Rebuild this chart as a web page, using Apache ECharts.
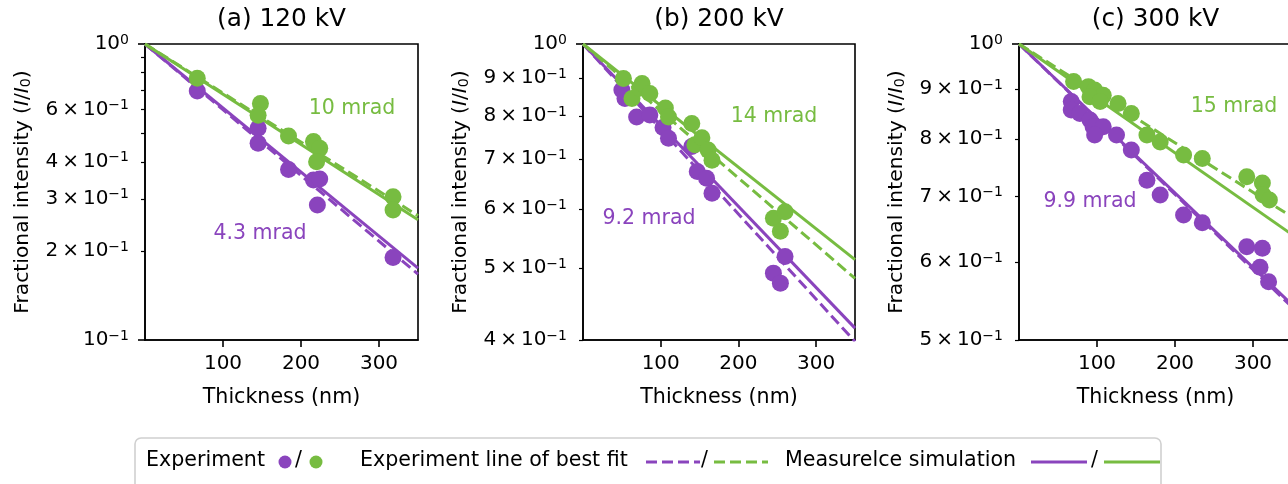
<!DOCTYPE html>
<html>
<head>
<meta charset="utf-8">
<script src="https://cdn.jsdelivr.net/npm/echarts@6/dist/echarts.min.js"></script>
<style>
  html, body { margin: 0; padding: 0; background: #fff; }
  #chart { width: 1288px; height: 484px; }
</style>
</head>
<body>
<div id="chart"></div>
<script>
const chart = echarts.init(document.getElementById('chart'))

const purple = '#8a44bd'
const green = '#77bc41'
const font = 'DejaVu Sans'

// panel titles and angle annotations
const titles = ['(a) 120 kV', '(b) 200 kV', '(c) 300 kV']
const anglePurple = ['4.3 mrad', '9.2 mrad', '9.9 mrad']
const angleGreen = ['10 mrad', '14 mrad', '15 mrad']

// axes
const xTicks = [100, 200, 300]
const yMin = [0.1, 0.4, 0.5]
const yLabels = [
  [0.1, 0.2, 0.3, 0.4, 0.6, 1],
  [0.4, 0.5, 0.6, 0.7, 0.8, 0.9, 1],
  [0.5, 0.6, 0.7, 0.8, 0.9, 1],
]
const yMinorTicks = [
  [0.2, 0.3, 0.4, 0.5, 0.6, 0.7, 0.8, 0.9],
  [0.4, 0.5, 0.6, 0.7, 0.8, 0.9],
  [0.5, 0.6, 0.7, 0.8, 0.9],
]
const yMajorTicks = [[0.1, 1], [1], [1]]

// experiment points: [thickness (nm), I/I0]
const expA_purple = [[67, 0.694], [145, 0.519], [145, 0.462], [184, 0.377], [216, 0.347], [224, 0.35], [221, 0.286], [318, 0.19]]
const expA_green = [[67, 0.766], [148, 0.63], [145, 0.575], [184, 0.489], [216, 0.468], [224, 0.444], [220, 0.4], [318, 0.305], [318, 0.275]]

const expB_purple = [[50, 0.867], [54, 0.845], [69, 0.798], [86, 0.803], [103, 0.772], [110, 0.747], [140, 0.728], [147, 0.674], [159, 0.66], [166, 0.63], [245, 0.492], [254, 0.477], [260, 0.518]]
const expB_green = [[52, 0.899], [63, 0.845], [73, 0.872], [76, 0.885], [86, 0.858], [106, 0.82], [110, 0.798], [140, 0.782], [144, 0.732], [153, 0.748], [161, 0.72], [166, 0.698], [245, 0.583], [254, 0.56], [260, 0.595]]

const expC_purple = [[67, 0.874], [67, 0.857], [78, 0.85], [91, 0.837], [95, 0.824], [108, 0.824], [97, 0.808], [125, 0.808], [144, 0.78], [164, 0.727], [181, 0.702], [211, 0.67], [235, 0.658], [292, 0.622], [312, 0.62], [309, 0.593], [320, 0.573]]
const expC_green = [[70, 0.916], [89, 0.905], [97, 0.898], [108, 0.887], [91, 0.884], [104, 0.874], [127, 0.87], [144, 0.85], [164, 0.808], [181, 0.795], [211, 0.771], [235, 0.765], [292, 0.733], [312, 0.722], [313, 0.702], [321, 0.694]]

// line of best fit (dashed)
const fitA_purple = [[0, 1], [350, 0.167]]
const fitA_green = [[0, 1], [350, 0.263]]
const fitB_purple = [[0, 1], [350, 0.398]]
const fitB_green = [[0, 1], [350, 0.484]]
const fitC_purple = [[0, 1], [350, 0.54]]
const fitC_green = [[0, 1], [350, 0.667]]

// MeasureIce simulation (solid)
const simA_purple = [[0, 1], [350, 0.175]]
const simA_green = [[0, 1], [350, 0.255]]
const simB_purple = [[0, 1], [350, 0.415]]
const simB_green = [[0, 1], [350, 0.513]]
const simC_purple = [[0, 1], [350, 0.543]]
const simC_green = [[0, 1], [350, 0.64]]

const panels = [
  { expP: expA_purple, expG: expA_green, fitP: fitA_purple, fitG: fitA_green, simP: simA_purple, simG: simA_green },
  { expP: expB_purple, expG: expB_green, fitP: fitB_purple, fitG: fitB_green, simP: simB_purple, simG: simB_green },
  { expP: expC_purple, expG: expC_green, fitP: fitC_purple, fitG: fitC_green, simP: simC_purple, simG: simC_green },
]

// layout
const gridLeft = [145, 583, 1019]
const gridWidth = [273, 272, 273]
const gridTop = 44
const gridHeight = 296
const annPurplePos = [[260, 234], [649, 219], [1090, 202]]
const annGreenPos = [[352, 109], [774, 117], [1234, 107]]

function logLabel(v) {
  if (Math.abs(v - 1) < 1e-9) return '{b|10}{s|0}'
  if (Math.abs(v - 0.1) < 1e-9) return '{b|10}{s|\u22121}'
  return '{b|' + Math.round(v * 10) + '\u2009\u00d7\u200910}{s|\u22121}'
}

const grids = []
const xAxes = []
const yAxes = []
const series = []
const graphics = []

panels.forEach((p, i) => {
  grids.push({
    left: gridLeft[i], top: gridTop, width: gridWidth[i], height: gridHeight,
    show: true, borderColor: '#000', borderWidth: 1.6, backgroundColor: 'transparent',
    containLabel: false, outerBoundsMode: 'none',
  })
  xAxes.push({
    type: 'value', gridIndex: i, min: 0, max: 350,
    name: 'Thickness (nm)', nameLocation: 'middle', nameGap: 47, nameMoveOverlap: false,
    nameTextStyle: { fontFamily: font, fontSize: 20.6, color: '#000' },
    axisLine: { show: true, lineStyle: { color: '#000', width: 1.6 } },
    axisTick: { show: true, length: 7, lineStyle: { color: '#000', width: 1.6 }, customValues: xTicks },
    axisLabel: { fontFamily: font, fontSize: 20, color: '#000', margin: 14, customValues: xTicks },
    splitLine: { show: false },
  })
  yAxes.push({
    type: 'log', logBase: 10, gridIndex: i, min: yMin[i], max: 1,
    name: 'Fractional intensity ({i|I}/{i|I}{sub|0})', nameLocation: 'middle', nameGap: 112, nameMoveOverlap: false,
    nameTextStyle: {
      fontFamily: font, fontSize: 20.3, color: '#000',
      rich: {
        i: { fontFamily: font, fontSize: 20.3, fontStyle: 'italic', color: '#000' },
        sub: { fontFamily: font, fontSize: 14.2, verticalAlign: 'bottom', color: '#000' },
      },
    },
    axisLine: { show: true, lineStyle: { color: '#000', width: 1.6 } },
    axisTick: { show: true, length: 4, lineStyle: { color: '#000', width: 1.2 }, customValues: yMinorTicks[i] },
    axisLabel: {
      margin: 16, customValues: yLabels[i], formatter: logLabel,
      rich: {
        b: { fontFamily: font, fontSize: 20, color: '#000', lineHeight: 22 },
        s: { fontFamily: font, fontSize: 14, color: '#000', verticalAlign: 'top', lineHeight: 14 },
      },
    },
    splitLine: { show: false },
    minorTick: { show: false },
  })
  yAxes.push({
    type: 'log', logBase: 10, gridIndex: i, min: yMin[i], max: 1, position: 'left',
    axisLine: { show: false },
    axisTick: { show: true, length: 7, lineStyle: { color: '#000', width: 1.6 }, customValues: yMajorTicks[i] },
    axisLabel: { show: false },
    splitLine: { show: false },
  })

  const lineBase = { type: 'line', xAxisIndex: i, yAxisIndex: 2 * i, showSymbol: false, symbol: 'none', silent: true, z: 2 }
  series.push({ ...lineBase, name: 'sim purple', data: p.simP, lineStyle: { color: purple, width: 3 } })
  series.push({ ...lineBase, name: 'fit purple', data: p.fitP, lineStyle: { color: purple, width: 3, type: [11, 5] } })
  series.push({ ...lineBase, name: 'sim green', data: p.simG, lineStyle: { color: green, width: 3 } })
  series.push({ ...lineBase, name: 'fit green', data: p.fitG, lineStyle: { color: green, width: 3, type: [11, 5] } })
  series.push({ type: 'scatter', name: 'exp purple', xAxisIndex: i, yAxisIndex: 2 * i, data: p.expP, symbolSize: 17, itemStyle: { color: purple, opacity: 1 }, z: 3 })
  series.push({ type: 'scatter', name: 'exp green', xAxisIndex: i, yAxisIndex: 2 * i, data: p.expG, symbolSize: 17, itemStyle: { color: green, opacity: 1 }, z: 4 })

  graphics.push({
    type: 'text', x: gridLeft[i] + gridWidth[i] / 2, y: 20, z: 10,
    style: { text: titles[i], fontFamily: font, fontSize: 24.8, fill: '#000', align: 'center', verticalAlign: 'middle' },
  })
  graphics.push({
    type: 'text', x: annPurplePos[i][0], y: annPurplePos[i][1], z: 10,
    style: { text: anglePurple[i], fontFamily: font, fontSize: 20.5, fill: purple, align: 'center', verticalAlign: 'middle' },
  })
  graphics.push({
    type: 'text', x: annGreenPos[i][0], y: annGreenPos[i][1], z: 10,
    style: { text: angleGreen[i], fontFamily: font, fontSize: 20.5, fill: green, align: 'center', verticalAlign: 'middle' },
  })
})

// legend box (drawn by hand, the items mix two colours per entry)
const ly = 461
const txt = (t, x) => ({ type: 'text', x: x, y: ly, z: 20, style: { text: t, fontFamily: font, fontSize: 20.6, fill: '#000', align: 'left', verticalAlign: 'middle' } })
const dot = (c, x) => ({ type: 'circle', z: 20, shape: { cx: x, cy: ly + 1, r: 6.5 }, style: { fill: c } })
const seg = (c, x1, x2, dash) => ({ type: 'line', z: 20, shape: { x1: x1, y1: ly + 1, x2: x2, y2: ly + 1 }, style: { stroke: c, lineWidth: 3, lineDash: dash ? [11, 5] : null } })

graphics.push({ type: 'rect', z: 19, shape: { x: 135, y: 438, width: 1026, height: 70, r: 6 }, style: { fill: '#fff', stroke: '#d0d0d0', lineWidth: 1.6 } })
graphics.push(txt('Experiment', 146), dot(purple, 285), txt('/', 295), dot(green, 316))
graphics.push(txt('Experiment line of best fit', 360), seg(purple, 646, 700, true), txt('/', 701), seg(green, 714, 768, true))
graphics.push(txt('Measurelce simulation', 785), seg(purple, 1031, 1087, false), txt('/', 1091), seg(green, 1104, 1160, false))

chart.setOption({
  animation: false,
  backgroundColor: '#fff',
  textStyle: { fontFamily: font },
  grid: grids,
  xAxis: xAxes,
  yAxis: yAxes,
  series: series,
  graphic: graphics,
})
</script>
</body>
</html>
